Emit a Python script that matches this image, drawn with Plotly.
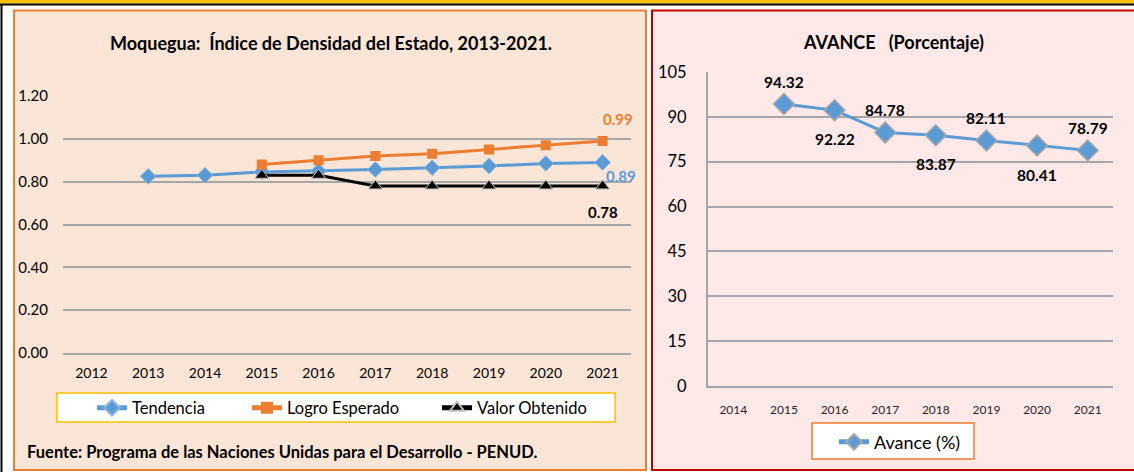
import plotly.graph_objects as go

W, H = 1134, 472

# ---------------- data ----------------
years_left = ["2012", "2013", "2014", "2015", "2016", "2017", "2018", "2019", "2020", "2021"]
tendencia_years = ["2013", "2014", "2015", "2016", "2017", "2018", "2019", "2020", "2021"]
tendencia = [0.825, 0.83, 0.845, 0.85, 0.857, 0.865, 0.873, 0.885, 0.89]
logro_years = ["2015", "2016", "2017", "2018", "2019", "2020", "2021"]
logro_esperado = [0.88, 0.90, 0.92, 0.93, 0.95, 0.97, 0.99]
valor_years = ["2015", "2016", "2017", "2018", "2019", "2020", "2021"]
valor_obtenido = [0.83, 0.83, 0.78, 0.78, 0.78, 0.78, 0.78]
left_ticks = [0.0, 0.2, 0.4, 0.6, 0.8, 1.0, 1.2]

years_right = ["2014", "2015", "2016", "2017", "2018", "2019", "2020", "2021"]
avance_years = ["2015", "2016", "2017", "2018", "2019", "2020", "2021"]
avance = [94.32, 92.22, 84.78, 83.87, 82.11, 80.41, 78.79]
right_ticks = [0, 15, 30, 45, 60, 75, 90, 105]

BLUE = "#5B9BD5"
ORANGE = "#ED7D31"
FONT = "Lato"
GRID = "#A6A6A6"


def px(x):
    return x / W


def py(y):
    return 1 - y / H


fig = go.Figure()

fig.add_trace(go.Scatter(
    x=tendencia_years, y=tendencia, name="Tendencia", mode="lines+markers",
    line=dict(color=BLUE, width=3),
    marker=dict(symbol="diamond", size=12, color=BLUE, line=dict(color="#8FB4DC", width=1)),
    xaxis="x", yaxis="y", legend="legend"))
fig.add_trace(go.Scatter(
    x=logro_years, y=logro_esperado, name="Logro Esperado", mode="lines+markers",
    line=dict(color=ORANGE, width=3),
    marker=dict(symbol="square", size=10, color=ORANGE),
    xaxis="x", yaxis="y", legend="legend3"))
fig.add_trace(go.Scatter(
    x=valor_years, y=valor_obtenido, name="Valor Obtenido", mode="lines+markers",
    line=dict(color="black", width=3),
    marker=dict(symbol="triangle-up", size=12, color="black", line=dict(color="#BFBFBF", width=1)),
    xaxis="x", yaxis="y", legend="legend4"))

fig.add_trace(go.Scatter(
    x=avance_years, y=avance, name="Avance (%)", mode="lines+markers",
    line=dict(color=BLUE, width=3),
    marker=dict(symbol="diamond", size=16, color=BLUE, line=dict(color="#A6A6A6", width=1.5)),
    xaxis="x2", yaxis="y2", legend="legend2"))

leg_common = dict(orientation="h", xanchor="left", yanchor="middle",
                  bgcolor="rgba(0,0,0,0)", borderwidth=0, itemsizing="constant")

fig.update_layout(
    template="none",
    width=W, height=H, autosize=False,
    margin=dict(l=0, r=0, t=0, b=0, pad=0, autoexpand=False),
    paper_bgcolor="white", plot_bgcolor="white",
    font=dict(family=FONT, color="black"),
    xaxis=dict(domain=[px(63), px(631)], type="category", categoryorder="array",
               categoryarray=years_left, range=[-0.5, len(years_left) - 0.5],
               showgrid=False, showline=True, linecolor=GRID, linewidth=2,
               ticks="", tickfont=dict(size=14, family=FONT), ticklabelstandoff=6,
               automargin=False, fixedrange=True),
    yaxis=dict(domain=[py(353), py(96)], range=[0, 1.2], tickvals=left_ticks,
               ticktext=[f"{v:.2f}" for v in left_ticks],
               showgrid=True, gridcolor=GRID, gridwidth=2, zeroline=False,
               showline=False, ticks="", tickfont=dict(size=15, family=FONT),
               ticklabelstandoff=14, automargin=False, fixedrange=True),
    xaxis2=dict(domain=[px(708), px(1113)], type="category", categoryorder="array",
                categoryarray=years_right, range=[-0.5, len(years_right) - 0.5],
                showgrid=False, showline=True, linecolor=GRID, linewidth=2,
                ticks="", tickfont=dict(size=12, family=FONT, color="#262626"),
                ticklabelstandoff=12, anchor="y2", automargin=False, fixedrange=True),
    yaxis2=dict(domain=[py(386), py(72)], range=[0, 105], tickvals=right_ticks,
                showgrid=True, gridcolor=GRID, gridwidth=2, zeroline=False,
                showline=True, linecolor=GRID, linewidth=2,
                ticks="", tickfont=dict(size=16.5, family=FONT),
                ticklabelstandoff=16, anchor="x2", automargin=False, fixedrange=True),
    legend=dict(x=px(92), y=py(408), font=dict(size=16.5, family=FONT), **leg_common),
    legend3=dict(x=px(247), y=py(408), font=dict(size=16.5, family=FONT), **leg_common),
    legend4=dict(x=px(437), y=py(408), font=dict(size=16.5, family=FONT), **leg_common),
    legend2=dict(x=px(834), y=py(442), font=dict(size=18, family=FONT), **leg_common),
    showlegend=True,
)

shapes = [
    # top decoration
    dict(type="rect", xref="paper", yref="paper", x0=0, x1=1, y0=py(3.5), y1=1,
         fillcolor="#FFC000", line=dict(width=0), layer="below"),
    dict(type="rect", xref="paper", yref="paper", x0=0, x1=1, y0=py(5.5), y1=py(3.5),
         fillcolor="black", line=dict(width=0), layer="below"),
    dict(type="rect", xref="paper", yref="paper", x0=px(0.5), x1=px(2.5), y0=0, y1=py(4),
         fillcolor="black", line=dict(width=0), layer="below"),
    # left panel
    dict(type="rect", xref="paper", yref="paper", x0=px(14), x1=px(646), y0=py(470), y1=py(10.5),
         fillcolor="#FBE5D6", line=dict(color=ORANGE, width=2), layer="below"),
    # right panel
    dict(type="rect", xref="paper", yref="paper", x0=px(652), x1=px(1138), y0=py(470), y1=py(10.5),
         fillcolor="#FFE8E8", line=dict(color="#C00000", width=2), layer="below"),
    # legend boxes
    dict(type="rect", xref="paper", yref="paper", x0=px(57), x1=px(615), y0=py(422), y1=py(393),
         fillcolor="white", line=dict(color="#FFC000", width=1.5), layer="below"),
    dict(type="rect", xref="paper", yref="paper", x0=px(812), x1=px(974), y0=py(459), y1=py(423),
         fillcolor="white", line=dict(color=ORANGE, width=1.5), layer="below"),
]
fig.update_layout(shapes=shapes)

ann = [
    dict(text="<b>Moquegua:&nbsp; Índice de Densidad del Estado, 2013-2021.</b>", xref="paper", yref="paper",
         x=px(331), y=py(43), xanchor="center", yanchor="middle", showarrow=False,
         font=dict(size=18, family=FONT)),
    dict(text="<b>Fuente: Programa de las Naciones Unidas para el Desarrollo - PENUD.</b>", xref="paper",
         yref="paper", x=px(25), y=py(452), xanchor="left", yanchor="middle", showarrow=False,
         font=dict(size=16.5, family=FONT)),
    dict(text="<b>AVANCE&nbsp;&nbsp; (Porcentaje)</b>", xref="paper", yref="paper",
         x=px(893), y=py(42), xanchor="center", yanchor="middle", showarrow=False,
         font=dict(size=18, family=FONT)),
    # left end labels
    dict(text=f"<b>{logro_esperado[-1]:.2f}</b>", x=years_left.index(logro_years[-1]), y=logro_esperado[-1],
         xref="x", yref="y", showarrow=False, xshift=15, yshift=22,
         font=dict(size=15, color=ORANGE, family=FONT)),
    dict(text=f"<b>{tendencia[-1]:.2f}</b>", x=years_left.index(tendencia_years[-1]), y=tendencia[-1],
         xref="x", yref="y", showarrow=False, xshift=18, yshift=-14,
         font=dict(size=15, color=BLUE, family=FONT)),
    dict(text=f"<b>{valor_obtenido[-1]:.2f}</b>", x=years_left.index(valor_years[-1]), y=valor_obtenido[-1],
         xref="x", yref="y", showarrow=False, xshift=0, yshift=-26,
         font=dict(size=15, color="black", family=FONT)),
]
for i, (yr, v) in enumerate(zip(avance_years, avance)):
    above = (i % 2 == 0)
    ann.append(dict(text=f"<b>{v:.2f}</b>", x=years_right.index(yr), y=v, xref="x2", yref="y2",
                    showarrow=False, yshift=22 if above else -29,
                    font=dict(size=15.5, family=FONT)))
fig.update_layout(annotations=ann)

post = "document.body.style.margin='0';"

fig.write_html("out.html", post_script=post, config={"displayModeBar": False})
